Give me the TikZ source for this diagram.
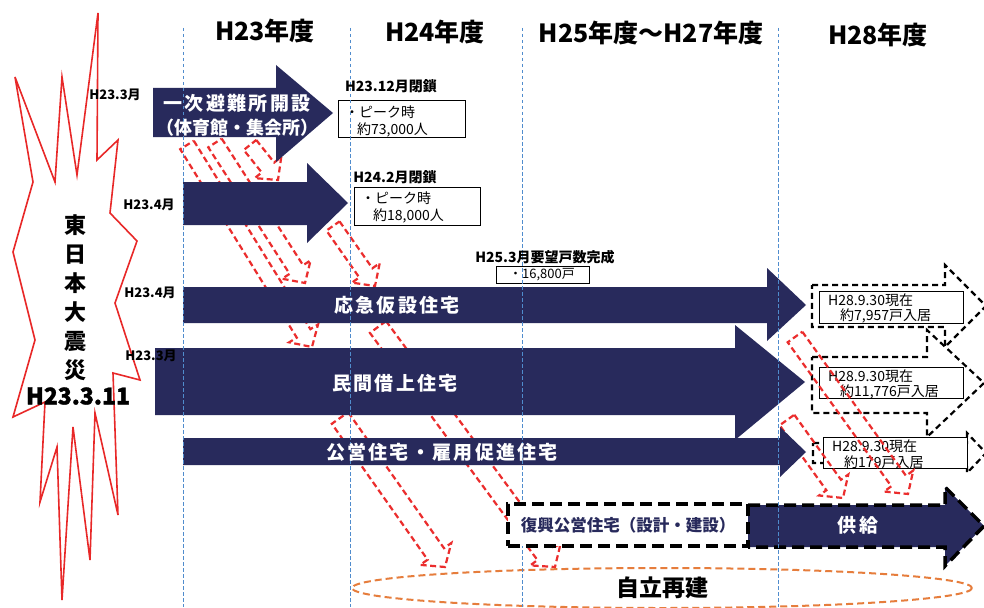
\documentclass[tikz,border=0pt]{standalone}
\usepackage{fontspec}
\setmainfont{Noto Sans CJK JP}
\newfontfamily\spjp[LetterSpace=12]{Noto Sans CJK JP}
\newfontfamily\heavyjp[BoldFeatures={FakeBold=1.5}]{Noto Sans CJK JP}
\definecolor{navy}{RGB}{40,42,92}
\definecolor{vlinec}{RGB}{80,140,205}
\definecolor{rdash}{RGB}{235,45,45}
\definecolor{orng}{RGB}{230,125,60}
\definecolor{burst}{RGB}{232,40,40}
\newcommand\redarrow[5]{%
 \pgfmathsetmacro\rang{atan2((#2)-(#4),(#3)-(#1))}%
 \pgfmathsetmacro\rlen{veclen((#3)-(#1),(#4)-(#2))}%
 \pgfmathsetmacro\rbase{\rlen-16}%
 \pgfmathsetmacro\rhw{#5+9}%
 \draw[redarr, shift={(#1,#2)}, rotate=\rang] (0,-#5) -- (\rbase,-#5) -- (\rbase,-\rhw) -- (\rlen,0) -- (\rbase,\rhw) -- (\rbase,#5) -- (0,#5) -- cycle;}
\begin{document}
\begin{tikzpicture}[x=1pt,y=-1pt,
  vline/.style={draw=vlinec, line width=0.9pt, dash pattern=on 3.5pt off 2.5pt},
  redarr/.style={draw=rdash, line width=2.2pt, dash pattern=on 6pt off 3.5pt},
  blkarr/.style={draw=black, line width=2.2pt, dash pattern=on 6pt off 4pt},
  hdr/.style={font=\bfseries\fontsize{25}{27}\selectfont, inner sep=0},
  wtxt/.style={text=white, font=\spjp\bfseries\fontsize{19}{21}\selectfont, inner sep=0},
  lbl/.style={font=\bfseries\fontsize{13}{14}\selectfont, inner sep=0},
  cbox/.style={draw=black, line width=1pt, fill=white, inner sep=0, anchor=north west},
  btxt/.style={font=\fontsize{14}{15}\selectfont, inner sep=0, anchor=west},
]
\useasboundingbox (0,0) rectangle (984,607);
\fill[white] (0,0) rectangle (984,607);

% starburst
\draw[burst, line width=1.6pt, fill=white, line join=miter] (15,77) -- (55,182) -- (62,77) -- (77,175) -- (98,13) -- (97,160) -- (118,140) -- (110,213) -- (137,241) -- (115,303) -- (140,380) -- (113,373) -- (118,515) -- (95,413) -- (90,560) -- (73,427) -- (62,600) -- (57,447) -- (40,502) -- (45,402) -- (13,417) -- (35,340) -- (13,252) -- (33,182) -- cycle;
\node[font=\bfseries\fontsize{22}{29}\selectfont, align=center, inner sep=0] (quake) at (75,298) {東\\日\\本\\大\\震\\災};
\node[font=\heavyjp\bfseries\fontsize{23}{24}\selectfont, inner sep=0] (qdate) at (78,396) {H23.3.11};

% right dashed outline arrows
\draw[blkarr] (812,285) -- (945,285) -- (945,265) -- (986,306) -- (945,347) -- (945,327) -- (812,327) -- cycle;
\draw[blkarr] (812,357) -- (927,357) -- (927,330) -- (984,383) -- (927,437) -- (927,413) -- (812,413) -- cycle;
\draw[blkarr] (813,443) -- (967,443) -- (967,433) -- (986,453) -- (967,473) -- (967,463) -- (813,463) -- cycle;

% right boxes
\node[cbox, minimum width=144pt, minimum height=32pt] (r1) at (819,291) {};
\node[btxt] (r1a) at (828,300) {H28.9.30現在};
\node[btxt] (r1b) at (840,316) {約7,957戸入居};
\node[cbox, minimum width=144pt, minimum height=31pt] (r2) at (819,367) {};
\node[btxt] (r2a) at (828,376) {H28.9.30現在};
\node[btxt] (r2b) at (840,392) {約11,776戸入居};
\node[cbox, minimum width=144pt, minimum height=31pt] (r3) at (823,437) {};
\node[btxt] (r3a) at (832,446) {H28.9.30現在};
\node[btxt] (r3b) at (844,462) {約179戸入居};

% red hollow arrows
\redarrow{187}{145}{312}{347}{8}
\redarrow{215}{143}{305}{283}{8}
\redarrow{250}{145}{278}{180}{8}
\redarrow{333}{226}{375}{286}{8}
\redarrow{378}{327}{555}{567}{10}
\redarrow{340}{418}{445}{567}{10}
\redarrow{795}{337}{908}{494}{9}
\redarrow{787}{420}{843}{498}{9}

% navy arrows
\fill[navy] (153,88) -- (276,88) -- (276,65) -- (333,113) -- (276,162) -- (276,137) -- (153,137) -- cycle;
\fill[navy] (183,182) -- (307,182) -- (307,163) -- (348,203) -- (307,243) -- (307,225) -- (183,225) -- cycle;
\fill[navy] (183,287) -- (767,287) -- (767,268) -- (806,305) -- (767,341) -- (767,323) -- (183,323) -- cycle;
\fill[navy] (155,348) -- (735,348) -- (735,325) -- (805,382) -- (735,440) -- (735,415) -- (155,415) -- cycle;
\fill[navy] (183,438) -- (780,438) -- (780,427) -- (806,452) -- (780,477) -- (780,465) -- (183,465) -- cycle;

% supply arrow
\draw[fill=navy, draw=black, line width=3.5pt, dash pattern=on 12pt off 6pt] (748,505) -- (945,505) -- (945,487) -- (984,526) -- (945,566) -- (945,547) -- (748,547);

% self rebuild ellipse
\draw[orng, line width=2pt, dash pattern=on 7pt off 4pt] (662,588) ellipse [x radius=310, y radius=20];

% callout boxes
\node[cbox, minimum width=127pt, minimum height=37pt] (pk1) at (338,100) {};
\node[btxt] (pk1a) at (345,112) {・ピーク時};
\node[btxt] (pk1b) at (357,130) {約73,000人};
\node[cbox, minimum width=126pt, minimum height=38pt] (pk2) at (354,187) {};
\node[btxt] (pk2a) at (361,198) {・ピーク時};
\node[btxt] (pk2b) at (373,216) {約18,000人};
\node[cbox, minimum width=93pt, minimum height=17pt] (n16) at (496,266) {};
\node[font=\fontsize{13}{14}\selectfont, inner sep=0] (n16t) at (542,275) {・16,800戸};

% vertical year lines
\draw[vline] (183,28) -- (183,607);
\draw[vline] (350,28) -- (350,607);
\draw[vline] (522,28) -- (522,607);
\draw[vline] (778,28) -- (778,607);

% reconstruction box
\node[draw=black, line width=3.5pt, dash pattern=on 12pt off 6pt, fill=white, minimum width=240pt, minimum height=42pt, inner sep=0, text=navy, font=\bfseries\fontsize{16.5}{18}\selectfont] (fukko) at (628,525) {復興公営住宅（設計・建設）};

% headers
\node[hdr] (h23) at (265,31) {H23年度};
\node[hdr] (h24) at (435,32) {H24年度};
\node[hdr] (h25) at (651,33) {H25年度～H27年度};
\node[hdr] (h28) at (878,35) {H28年度};

% arrow texts
\node[wtxt] (t1a) at (237,103) {一次避難所開設};
\node[wtxt, font=\bfseries\fontsize{18}{20}\selectfont] (t1b) at (237,128) {（体育館・集会所）};
\node[wtxt] (t3) at (397,305) {応急仮設住宅};
\node[wtxt] (t4) at (395,383) {民間借上住宅};
\node[wtxt] (t5) at (442,452) {公営住宅・雇用促進住宅};
\node[wtxt] (t6) at (858,525) {供給};
\node[font=\bfseries\fontsize{23}{24}\selectfont, inner sep=0] (jiritsu) at (662,588) {自立再建};

% small labels
\node[lbl] (l1) at (115,95) {H23.3月};
\node[lbl] (l2) at (149,205) {H23.4月};
\node[lbl] (l3) at (150,293) {H23.4月};
\node[lbl] (l4) at (151,356) {H23.3月};
\node[lbl, font=\bfseries\fontsize{14}{15}\selectfont] (c1) at (391,86) {H23.12月閉鎖};
\node[lbl, font=\bfseries\fontsize{14}{15}\selectfont] (c2) at (395,177) {H24.2月閉鎖};
\node[lbl, font=\bfseries\fontsize{14}{15}\selectfont] (c3) at (545,257) {H25.3月要望戸数完成};
\end{tikzpicture}
\end{document}
